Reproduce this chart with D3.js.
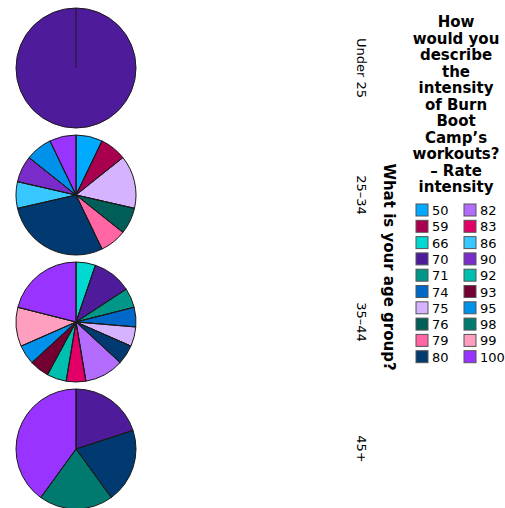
<!DOCTYPE html>
<html>
<head>
<meta charset="utf-8">
<script src="https://cdn.jsdelivr.net/npm/d3@7/dist/d3.min.js"></script>
<style>
  html, body { margin: 0; padding: 0; background: #fff; }
  svg { display: block; }
  text { font-family: "DejaVu Sans", sans-serif; fill: #000; }
</style>
</head>
<body>
<svg id="chart" width="505" height="508"></svg>
<script>
// Age groups (one pie per group)
const ageGroups = ["Under 25", "25–34", "35–44", "45+"];

// Intensity ratings shown in the legend
const ratings = [50, 59, 66, 70, 71, 74, 75, 76, 79, 80, 82, 83, 86, 90, 92, 93, 95, 98, 99, 100];
const ratingColors = [
  "#00aaff", "#a8004f", "#00d9d2", "#4e1b9b", "#009688",
  "#0068c9", "#d5b3ff", "#005e58", "#ff66a3", "#003a70",
  "#b46cff", "#e20068", "#38c8ff", "#7a2ccb", "#00bfae",
  "#720030", "#0091ea", "#00796e", "#ff9fc0", "#9933ff"
];

// Response counts per rating, for each age group
const under25 = [{ rating: 70, count: 1 }];
const age25to34 = [
  { rating: 50, count: 1 }, { rating: 59, count: 1 }, { rating: 75, count: 2 },
  { rating: 76, count: 1 }, { rating: 79, count: 1 }, { rating: 80, count: 4 },
  { rating: 86, count: 1 }, { rating: 90, count: 1 }, { rating: 95, count: 1 },
  { rating: 100, count: 1 }
];
const age35to44 = [
  { rating: 66, count: 1 }, { rating: 70, count: 2 }, { rating: 71, count: 1 },
  { rating: 74, count: 1 }, { rating: 75, count: 1 }, { rating: 80, count: 1 },
  { rating: 82, count: 2 }, { rating: 83, count: 1 }, { rating: 92, count: 1 },
  { rating: 93, count: 1 }, { rating: 95, count: 1 }, { rating: 99, count: 2 },
  { rating: 100, count: 4 }
];
const age45plus = [
  { rating: 70, count: 1 }, { rating: 80, count: 1 }, { rating: 98, count: 1 },
  { rating: 100, count: 2 }
];
const groupData = [under25, age25to34, age35to44, age45plus];

const legendTitle = ["How", "would you", "describe", "the", "intensity", "of Burn",
  "Boot", "Camp’s", "workouts?", "– Rate", "intensity"];
const axisTitle = "What is your age group?";

const svg = d3.select("#chart");

const color = d3.scaleOrdinal().domain(ratings).range(ratingColors);
const y = d3.scaleBand().domain(ageGroups).range([4.5, 512.5]).padding(0);
const cx = 76, radius = 60;

const pie = d3.pie().sort(null).value(d => d.count);
const arc = d3.arc().innerRadius(0).outerRadius(radius);

ageGroups.forEach((g, i) => {
  const cy = y(g) + y.bandwidth() / 2;
  const arcs = pie(groupData[i]);
  const gp = svg.append("g").attr("transform", `translate(${cx},${cy})`);
  gp.selectAll("path.slice").data(arcs).join("path")
    .attr("class", "slice")
    .attr("d", arc)
    .attr("fill", d => color(d.data.rating))
    .attr("stroke", "#1a1a1a")
    .attr("stroke-width", 1)
    .attr("stroke-linejoin", "round");
  // slice boundary spokes
  gp.selectAll("line.spoke").data(arcs).join("line")
    .attr("class", "spoke")
    .attr("x1", 0).attr("y1", 0)
    .attr("x2", d => radius * Math.sin(d.startAngle))
    .attr("y2", d => -radius * Math.cos(d.startAngle))
    .attr("stroke", "#1a1a1a")
    .attr("stroke-width", 1);
});

// Row labels (rotated)
svg.selectAll("text.row").data(ageGroups).join("text")
  .attr("class", "row")
  .attr("transform", d => `translate(357,${y(d) + y.bandwidth() / 2}) rotate(90)`)
  .attr("text-anchor", "middle")
  .attr("font-size", 13)
  .attr("fill", "#222")
  .text(d => d);

// Axis title
svg.append("text")
  .attr("transform", `translate(384,267) rotate(90)`)
  .attr("text-anchor", "middle")
  .attr("font-size", 15)
  .attr("font-weight", "bold")
  .text(axisTitle);

// Legend title
svg.append("g").selectAll("text").data(legendTitle).join("text")
  .attr("x", 456)
  .attr("y", (d, i) => 27 + i * 16.5)
  .attr("text-anchor", "middle")
  .attr("font-size", 15)
  .attr("font-weight", "bold")
  .text(d => d);

// Legend entries in two columns
const legend = svg.append("g");
const rowsPerCol = 10;
const items = legend.selectAll("g").data(ratings).join("g")
  .attr("transform", (d, i) => {
    const col = Math.floor(i / rowsPerCol), row = i % rowsPerCol;
    return `translate(${416 + col * 48},${204 + row * 16.3})`;
  });
items.append("rect")
  .attr("width", 12).attr("height", 12)
  .attr("fill", d => color(d))
  .attr("stroke", "#555")
  .attr("stroke-width", 1);
items.append("text")
  .attr("x", 16).attr("y", 11)
  .attr("font-size", 13)
  .text(d => d);
</script>
</body>
</html>
